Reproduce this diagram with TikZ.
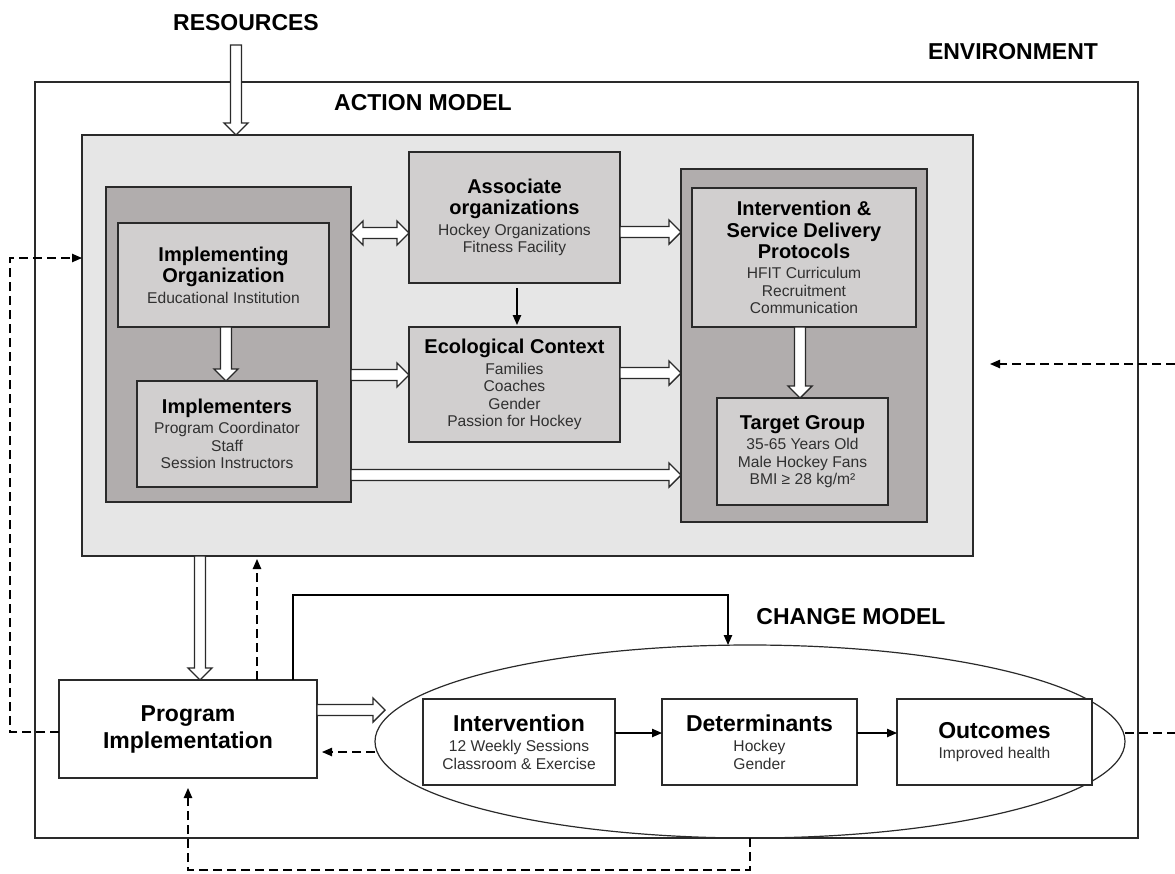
\documentclass[tikz,border=0pt]{standalone}
\usepackage{fontspec}
\setmainfont{Liberation Sans}
\usetikzlibrary{calc,arrows.meta,shapes.geometric}
\definecolor{actbg}{HTML}{E6E6E6}
\definecolor{panelgray}{HTML}{B1ADAD}
\definecolor{innergray}{HTML}{D1CFCF}
\definecolor{subgray}{HTML}{303030}
\definecolor{linegray}{HTML}{2A2A2A}
\newcommand\Tt{\fontsize{10}{10}\selectfont\bfseries\color{black}}
\newcommand\Tb{\fontsize{11.5}{11.5}\selectfont\bfseries\color{black}}
\newcommand\Sb{\fontsize{7.8}{8.7}\selectfont\lineskiplimit=-20pt\relax}
\newcommand\hollowdown[2]{\draw[hollow] let \p1=(#1), \p2=(#2) in
  (\x1-2.75pt,\y1) -- (\x1-2.75pt,\y2+6pt) -- (\x1-6pt,\y2+6pt) -- (\x1,\y2)
  -- (\x1+6pt,\y2+6pt) -- (\x1+2.75pt,\y2+6pt) -- (\x1+2.75pt,\y1) -- cycle;}
\newcommand\hollowright[2]{\draw[hollow] let \p1=(#1), \p2=(#2) in
  (\x1,\y1+2.75pt) -- (\x2-6pt,\y1+2.75pt) -- (\x2-6pt,\y1+6pt) -- (\x2,\y1)
  -- (\x2-6pt,\y1-6pt) -- (\x2-6pt,\y1-2.75pt) -- (\x1,\y1-2.75pt) -- cycle;}
\newcommand\hollowboth[2]{\draw[hollow] let \p1=(#1), \p2=(#2) in
  (\x1,\y1) -- (\x1+6pt,\y1+6pt) -- (\x1+6pt,\y1+2.75pt) -- (\x2-6pt,\y1+2.75pt)
  -- (\x2-6pt,\y1+6pt) -- (\x2,\y1) -- (\x2-6pt,\y1-6pt) -- (\x2-6pt,\y1-2.75pt)
  -- (\x1+6pt,\y1-2.75pt) -- (\x1+6pt,\y1-6pt) -- cycle;}
\tikzset{
  every node/.style={inner sep=0pt, outer sep=0pt},
  gbox/.style={draw=linegray, line width=0.8pt, fill=innergray, align=center,
    font=\Sb, text=subgray},
  wbox/.style={gbox, fill=white},
  panelbox/.style={draw=linegray, line width=0.8pt, fill=panelgray},
  hdr/.style={font=\fontsize{11.5}{13}\selectfont\bfseries},
  hollow/.style={draw=linegray, line width=0.7pt, fill=white, line join=miter},
  smalltip/.style={-{Triangle[length=5pt,width=4.2pt]}},
  dsh/.style={dash pattern=on 4.5pt off 2.5pt, line width=0.6pt},
  arr/.style={line width=0.6pt, smalltip},
}
\begin{document}
\begin{tikzpicture}[x=0.5pt,y=-0.5pt]
\useasboundingbox (0,0) rectangle (1175,874);
% helper coordinates
\coordinate (r0) at (236,45);
\coordinate (xa) at (200,0);
\coordinate (xb) at (226,0);
\coordinate (xc) at (800,0);
\coordinate (xd) at (517,0);
\coordinate (xl) at (10,0);
\coordinate (xm) at (188,0);
\coordinate (xn) at (257,0);
\coordinate (xo) at (293,0);
\coordinate (xp) at (728,0);
\coordinate (ya) at (0,233);
\coordinate (yb) at (0,375);
\coordinate (yc) at (0,475);
\coordinate (yd) at (0,232);
\coordinate (ye) at (0,373);
\coordinate (yf) at (0,710);
\coordinate (yg) at (0,733);
\coordinate (yh) at (0,732);
\coordinate (yi) at (0,258);
\coordinate (yj) at (0,752);
\coordinate (yk) at (0,870);
\coordinate (yl) at (0,595);
\coordinate (tipA) at (385,710);
\coordinate (envR) at (1175,364);
\coordinate (envT) at (990,364);
\coordinate (outR) at (1175,733);

% environment
\node[draw=linegray, line width=0.9pt, minimum width=551.5pt, minimum height=378pt] (env) at (586.5,460) {};
\node[hdr] (lres) at (246,23) {RESOURCES};
\node[hdr] (lenv) at (1013,52) {ENVIRONMENT};
\node[hdr] (lact) at (423,103) {ACTION MODEL};
\node[hdr] (lchg) at (851,617) {CHANGE MODEL};

% action model
\node[draw=linegray, line width=0.8pt, fill=actbg, minimum width=445.5pt, minimum height=210.5pt] (action) at (527.5,345.5) {};
\node[panelbox, minimum width=122.5pt, minimum height=157.5pt] (leftpanel) at (228.5,344.5) {};
\node[panelbox, minimum width=123pt, minimum height=176.5pt] (rightpanel) at (804,345.5) {};

\node[gbox, minimum width=105.5pt, minimum height=52pt] (implorg) at (223.5,275)
  {{\Tt Implementing}\\[2pt]{\Tt Organization}\\[1.5pt]Educational Institution};
\node[gbox, minimum width=90pt, minimum height=53pt] (implementers) at (227,434)
  {{\Tt Implementers}\\[1.5pt]Program Coordinator\\Staff\\Session Instructors};
\node[gbox, minimum width=105.5pt, minimum height=65.5pt] (assoc) at (514.5,217.5)
  {{\Tt Associate}\\[2pt]{\Tt organizations}\\[1.5pt]Hockey Organizations\\Fitness Facility};
\node[gbox, minimum width=105.5pt, minimum height=57.5pt] (eco) at (514.5,384.5)
  {{\Tt Ecological Context}\\[1.5pt]Families\\Coaches\\Gender\\Passion for Hockey};
\node[gbox, minimum width=112pt, minimum height=69.5pt] (isdp) at (804,257.5)
  {{\Tt Intervention \&}\\[2pt]{\Tt Service Delivery}\\[2pt]{\Tt Protocols}\\[1.5pt]HFIT Curriculum\\Recruitment\\Communication};
\node[gbox, minimum width=85.5pt, minimum height=53.5pt] (target) at (802.5,451.5)
  {{\Tt Target Group}\\[1.5pt]35-65 Years Old\\Male Hockey Fans\\BMI ≥ 28 kg/m²};

% hollow arrows in action model
\hollowdown{r0}{r0 |- action.north}
\hollowdown{implorg.south -| xb}{implementers.north -| xb}
\hollowdown{isdp.south -| xc}{target.north -| xc}
\hollowboth{leftpanel.east |- ya}{assoc.west |- ya}
\hollowright{leftpanel.east |- yb}{eco.west |- yb}
\hollowright{leftpanel.east |- yc}{rightpanel.west |- yc}
\hollowright{assoc.east |- yd}{rightpanel.west |- yd}
\hollowright{eco.east |- ye}{rightpanel.west |- ye}
\draw[arr, shorten <=2.5pt, shorten >=1pt] (assoc.south -| xd) -- (eco.north -| xd);

% program implementation
\node[wbox, minimum width=129pt, minimum height=49pt] (progimpl) at (188,729)
  {{\Tb Program}\\[4.8pt]{\Tb Implementation}};
\hollowdown{action.south -| xa}{progimpl.north -| xa}

% change model
\node[draw=linegray, line width=0.6pt, ellipse, minimum width=375pt, minimum height=96.5pt] (chg) at (750,741.5) {};
\node[wbox, minimum width=96pt, minimum height=43pt] (intervention) at (519,742)
  {{\Tb Intervention}\\[1.5pt]12 Weekly Sessions\\Classroom \& Exercise};
\node[wbox, minimum width=97.5pt, minimum height=43pt] (determinants) at (759.5,742)
  {{\Tb Determinants}\\[1.5pt]Hockey\\Gender};
\node[wbox, minimum width=97.5pt, minimum height=43pt] (outcomes) at (994.5,742)
  {{\Tb Outcomes}\\[1.5pt]Improved health};
\draw[arr] (intervention.east |- yg) -- (determinants.west |- yg);
\draw[arr] (determinants.east |- yg) -- (outcomes.west |- yg);
\hollowright{progimpl.east |- yf}{tipA}

% solid link program -> change model
\draw[arr] (progimpl.north -| xo) -- (xo |- yl) -- (xp |- yl) -- (xp |- chg.north);

% dashed feedback lines
\draw[dsh, smalltip] (progimpl.west |- yh) -- (xl |- yh) -- (xl |- yi) -- (action.west |- yi);
\draw[dsh, smalltip] (envR) -- (envT);
\draw[dsh] (chg.east |- yg) -- (outR);
\draw[dsh, smalltip, shorten >=2.5pt] (chg.west |- yj) -- (progimpl.east |- yj);
\draw[dsh, smalltip, shorten >=5pt] (chg.south) -- (chg.south |- yk) -- (xm |- yk) -- (progimpl.south -| xm);
\draw[dsh, smalltip, shorten >=1.5pt] (progimpl.north -| xn) -- (action.south -| xn);
\end{tikzpicture}
\end{document}
